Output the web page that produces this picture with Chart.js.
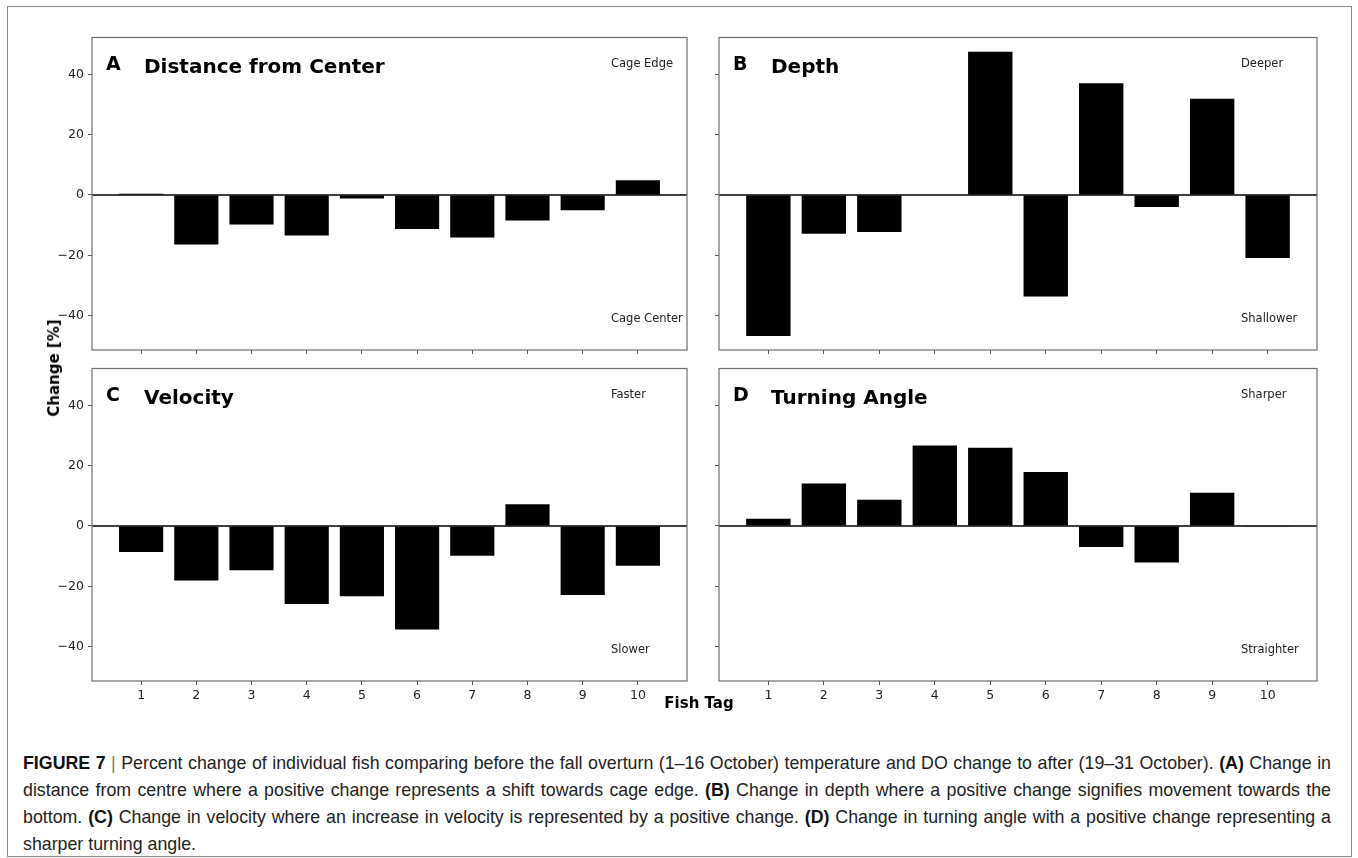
<!DOCTYPE html>
<html>
<head>
<meta charset="utf-8">
<script src="https://cdn.jsdelivr.net/npm/chart.js@4.4.1/dist/chart.umd.min.js"></script>
<style>
  body { margin: 0; background: #fff; width: 1358px; height: 858px; position: relative; overflow: hidden; font-family: "DejaVu Sans", sans-serif; }
  #frame { position: absolute; left: 7px; top: 6px; width: 1345px; height: 851px; border: 1.5px solid #8a8a8a; box-sizing: border-box; }
  .panel { position: absolute; }
  #ylab { position: absolute; left: 54px; top: 368px; transform: translate(-50%, -50%) rotate(-90deg); font-weight: bold; font-size: 15px; white-space: nowrap; color: #000; }
  #xlab { position: absolute; left: 699px; top: 703px; transform: translate(-50%, -50%); font-weight: bold; font-size: 15px; white-space: nowrap; color: #000; }
  #caption { position: absolute; left: 23px; top: 750px; width: 1308px; font-family: "Liberation Sans", Arial, sans-serif; font-size: 17.8px; line-height: 27px; color: #222; }
  #caption div { white-space: nowrap; text-align: justify; text-align-last: justify; }
  #caption div.last { text-align-last: left; }
  #caption b { color: #111; }
  #caption .bar { color: #777; font-weight: normal; }
</style>
</head>
<body>
<div id="frame"></div>
<div class="panel" id="boxA"><canvas id="chartA"></canvas></div>
<div class="panel" id="boxB"><canvas id="chartB"></canvas></div>
<div class="panel" id="boxC"><canvas id="chartC"></canvas></div>
<div class="panel" id="boxD"><canvas id="chartD"></canvas></div>
<div id="ylab">Change [%]</div>
<div id="xlab">Fish Tag</div>
<div id="caption">
  <div><b>FIGURE 7 <span class="bar">|</span></b> Percent change of individual fish comparing before the fall overturn (1–16 October) temperature and DO change to after (19–31 October). <b>(A)</b> Change in</div>
  <div>distance from centre where a positive change represents a shift towards cage edge. <b>(B)</b> Change in depth where a positive change signifies movement towards the</div>
  <div>bottom. <b>(C)</b> Change in velocity where an increase in velocity is represented by a positive change. <b>(D)</b> Change in turning angle with a positive change representing a</div>
  <div class="last">sharper turning angle.</div>
</div>
<script>
const fishTags = [1, 2, 3, 4, 5, 6, 7, 8, 9, 10];
const distanceChange = [0.4, -16.4, -9.8, -13.4, -1.2, -11.3, -14.1, -8.5, -5.1, 4.9];
const depthChange = [-46.8, -12.9, -12.3, -0.2, 47.5, -33.7, 37.0, -4.0, 31.9, -20.9];
const velocityChange = [-8.6, -18.1, -14.7, -25.9, -23.3, -34.3, -9.9, 7.2, -22.9, -13.2];
const turningChange = [2.4, 14.1, 8.7, 26.7, 25.9, 17.9, -7.0, -12.1, 11.0, -0.3];
const yTicks = [-40, -20, 0, 20, 40];
const panelLetters = ['A', 'B', 'C', 'D'];
const panelTitles = ['Distance from Center', 'Depth', 'Velocity', 'Turning Angle'];
const upperNotes = ['Cage Edge', 'Deeper', 'Faster', 'Sharper'];
const lowerNotes = ['Cage Center', 'Shallower', 'Slower', 'Straighter'];

// plot area of each panel in page pixels
const layout = [
    { box: 'boxA', canvas: 'chartA', values: distanceChange, left: 92, top: 34, width: 595, height: 316, yLabels: true, xLabels: false },
    { box: 'boxB', canvas: 'chartB', values: depthChange, left: 719, top: 34, width: 598, height: 316, yLabels: false, xLabels: false },
    { box: 'boxC', canvas: 'chartC', values: velocityChange, left: 92, top: 365, width: 595, height: 316, yLabels: true, xLabels: true },
    { box: 'boxD', canvas: 'chartD', values: turningChange, left: 719, top: 365, width: 598, height: 316, yLabels: false, xLabels: true }
];

const padTop = 8, padRight = 8, axisH = 30;

function minusLabel(v) {
    return v < 0 ? '\u2212' + Math.abs(v) : String(v);
}

const panelDecor = {
    id: 'panelDecor',
    afterDatasetsDraw(chart, args, opts) {
        const ctx = chart.ctx;
        const a = chart.chartArea;
        const y0 = chart.scales.y.getPixelForValue(0);
        ctx.save();
        // zero line
        ctx.strokeStyle = '#000';
        ctx.lineWidth = 1.6;
        ctx.beginPath();
        ctx.moveTo(a.left, y0);
        ctx.lineTo(a.right, y0);
        ctx.stroke();
        // axes box
        ctx.strokeStyle = '#6e6e6e';
        ctx.lineWidth = 1.2;
        ctx.strokeRect(a.left, a.top, a.right - a.left, a.bottom - a.top);
        // panel texts
        ctx.fillStyle = '#000';
        ctx.textBaseline = 'middle';
        ctx.textAlign = 'left';
        ctx.font = 'bold 19px "DejaVu Sans"';
        ctx.fillText(opts.letter, a.left + 14, a.top + 28);
        ctx.font = 'bold 20px "DejaVu Sans"';
        ctx.fillText(opts.title, a.left + 52, a.top + 30);
        ctx.fillStyle = '#222';
        ctx.font = '11.5px "DejaVu Sans"';
        ctx.fillText(opts.upper, a.right - 76, a.top + 27);
        ctx.fillText(opts.lower, a.right - 76, a.bottom - 31);
        ctx.restore();
    }
};

document.addEventListener('DOMContentLoaded', function () {
    layout.forEach(function (p, i) {
        const axisW = p.yLabels ? 50 : 14;
        const box = document.getElementById(p.box);
        box.style.left = (p.left - axisW) + 'px';
        box.style.top = (p.top - padTop) + 'px';
        box.style.width = (p.width + axisW + padRight) + 'px';
        box.style.height = (p.height + padTop + axisH) + 'px';

        const ctx = document.getElementById(p.canvas).getContext('2d');
        new Chart(ctx, {
            type: 'bar',
            data: {
                datasets: [{
                    label: panelTitles[i],
                    data: fishTags.map((tag, k) => ({ x: tag, y: p.values[k] })),
                    backgroundColor: '#000',
                    borderWidth: 0,
                    barPercentage: 0.8,
                    categoryPercentage: 1.0
                }]
            },
            options: {
                responsive: true,
                maintainAspectRatio: false,
                animation: false,
                layout: { padding: { top: padTop, right: padRight, left: 0, bottom: 0 } },
                plugins: {
                    legend: { display: false },
                    tooltip: { enabled: false },
                    panelDecor: {
                        letter: panelLetters[i],
                        title: panelTitles[i],
                        upper: upperNotes[i],
                        lower: lowerNotes[i]
                    }
                },
                scales: {
                    x: {
                        type: 'linear',
                        min: 0.11,
                        max: 10.89,
                        offset: false,
                        afterBuildTicks: s => { s.ticks = fishTags.map(v => ({ value: v })); },
                        afterFit: s => { s.height = axisH; },
                        border: { display: false },
                        grid: { display: true, offset: false, drawOnChartArea: false, drawTicks: true, tickLength: 4, color: '#555', lineWidth: 1 },
                        ticks: {
                            color: '#222',
                            font: { family: 'DejaVu Sans', size: 12.5 },
                            padding: 3,
                            maxRotation: 0,
                            autoSkip: false,
                            callback: v => p.xLabels ? String(v) : ''
                        }
                    },
                    y: {
                        min: -51.4,
                        max: 52.2,
                        afterBuildTicks: s => { s.ticks = yTicks.map(v => ({ value: v })); },
                        afterFit: s => { s.width = axisW; },
                        border: { display: false },
                        grid: { display: true, drawOnChartArea: false, drawTicks: true, tickLength: 4, color: '#555', lineWidth: 1 },
                        ticks: {
                            color: '#222',
                            font: { family: 'DejaVu Sans', size: 12.5 },
                            padding: 4,
                            autoSkip: false,
                            callback: v => p.yLabels ? minusLabel(v) : ''
                        }
                    }
                }
            },
            plugins: [panelDecor]
        });
    });
});
</script>
</body>
</html>
